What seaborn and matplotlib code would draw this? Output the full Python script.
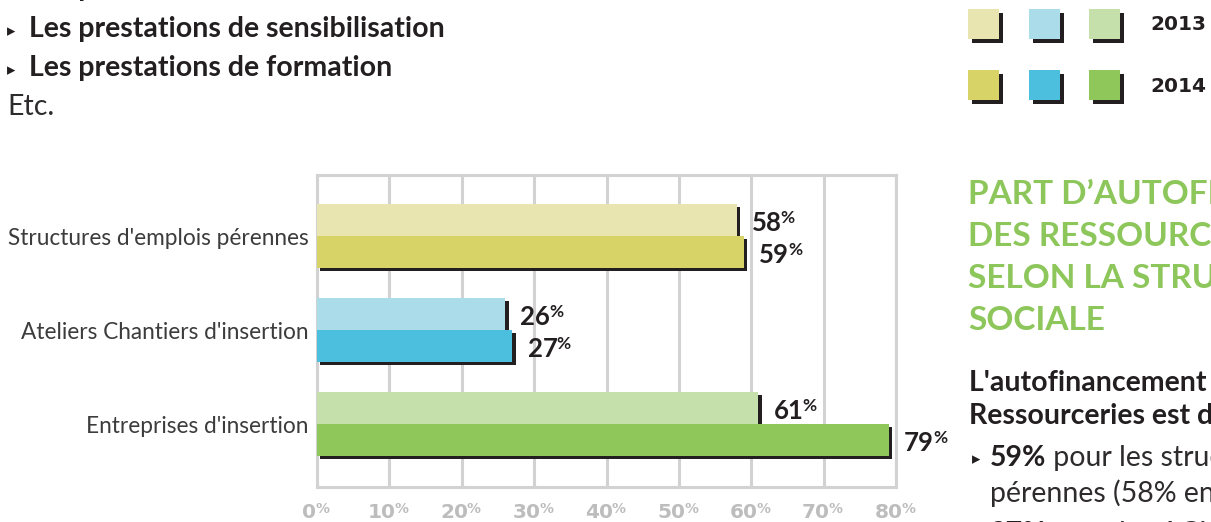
import matplotlib
matplotlib.use("Agg")
import matplotlib.pyplot as plt
import matplotlib.patheffects as pe
from matplotlib.patches import Rectangle
import seaborn as sns
import pandas as pd

# ---------------- data ----------------
categories = ["Structures d'emplois pérennes",
              "Ateliers Chantiers d'insertion",
              "Entreprises d'insertion"]
years = ["2013", "2014"]
values_2013 = [58, 26, 61]
values_2014 = [59, 27, 79]
colors_2013 = ["#E8E5B0", "#ABDCEA", "#C5E0AA"]
colors_2014 = ["#D7D366", "#4BBFDD", "#8FC75B"]
x_ticks = [0, 10, 20, 30, 40, 50, 60, 70, 80]

df = pd.DataFrame({
    "cat": categories * 2,
    "year": [years[0]] * 3 + [years[1]] * 3,
    "val": values_2013 + values_2014,
})

sns.set_theme(style="white")
plt.rcParams["font.family"] = ["Lato", "DejaVu Sans"]

W, H = 1211, 522
fig = plt.figure(figsize=(W / 100, H / 100), dpi=100)
fig.patch.set_facecolor("white")


def fx(px):
    return px / W


def fy(px):
    return 1 - px / H


DARK = "#231f20"
BODY = "#2e2b2c"
GRID = "#d2d2d2"
TICKC = "#bdbdbd"
GREEN = "#8DC65A"
FS = 20.5

shadow = [pe.SimplePatchShadow(offset=(2.4, -2.4), shadow_rgbFace=DARK, alpha=1.0), pe.Normal()]

# ---------------- chart ----------------
ax = fig.add_axes([fx(317), fy(487), fx(896) - fx(317), fy(175) - fy(487)])
sns.barplot(data=df, y="cat", x="val", hue="year", hue_order=years, order=categories,
            orient="h", width=0.68, ax=ax, legend=False, saturation=1,
            errorbar=None, palette=["#cccccc", "#999999"])

for p in ax.patches:
    yc = p.get_y() + p.get_height() / 2
    ci = int(round(yc))
    is2013 = yc < ci
    p.set_facecolor(colors_2013[ci] if is2013 else colors_2014[ci])
    p.set_edgecolor("none")
    p.set_linewidth(0)
    p.set_zorder(2)
    p.set_path_effects(shadow)

ax.set_xlim(0, 80)
ax.set_ylim(2.67, -0.65)
ax.set_xticks(x_ticks)
ax.set_xticklabels([])
ax.set_xlabel("")
ax.set_ylabel("")
ax.xaxis.grid(True, color=GRID, lw=2.2)
ax.yaxis.grid(False)
ax.set_axisbelow(True)
for s in ax.spines.values():
    s.set_visible(True)
    s.set_color(GRID)
    s.set_linewidth(2.2)
    s.set_zorder(0.6)
ax.tick_params(axis="both", length=0)
ax.tick_params(axis="y", pad=6)
for lab in ax.get_yticklabels():
    lab.set_fontsize(16.3)
    lab.set_fontweight("normal")
    lab.set_color("#3c3c3c")


def two_part(num, xy, xycoords, xytext, size, pct_size, color, family, ha="left"):
    t = ax.annotate(num, xy=xy, xycoords=xycoords, xytext=xytext, textcoords="offset points",
                    ha=ha, va="center", fontsize=size, fontweight="bold", color=color,
                    family=family, annotation_clip=False)
    ax.annotate("%", xy=(1, 1), xycoords=t, xytext=(-0.8, 0.6), textcoords="offset points",
                ha="left", va="top", fontsize=pct_size, fontweight="bold", color=color,
                family=family, annotation_clip=False)
    return t


# value labels
for p in ax.patches:
    yc = p.get_y() + p.get_height() / 2
    v = p.get_width()
    two_part(f"{int(round(v))}", (v, yc), "data", (11, -2.2), 18.5, 12.5, DARK, ["Lato", "DejaVu Sans"])

# custom x tick labels (grey, smaller %)
for t in x_ticks:
    two_part(f"{t}", (t, 0), ax.get_xaxis_transform(), (-5.5, -18.3), 14.5, 10, TICKC,
             ["DejaVu Sans"], ha="center")

# ---------------- legend (swatches) ----------------
lax = fig.add_axes([0, 0, 1, 1], zorder=5)
lax.set_xlim(0, W)
lax.set_ylim(H, 0)
lax.axis("off")
sw_x = [968, 1029, 1089]
sw_y = [9, 70]
for row, cols in enumerate([colors_2013, colors_2014]):
    for i, c in enumerate(cols):
        r = Rectangle((sw_x[i], sw_y[row]), 31, 30, facecolor=c, edgecolor="none")
        r.set_path_effects([pe.SimplePatchShadow(offset=(2.8, -2.8), shadow_rgbFace=DARK, alpha=1.0),
                            pe.Normal()])
        lax.add_patch(r)
    lax.text(1150, sw_y[row] + 16, years[row], ha="left", va="center", fontsize=14.5,
             fontweight="bold", color=DARK, family="DejaVu Sans")

# ---------------- surrounding page text ----------------
def bullet(xp, yp, size=12):
    fig.text(fx(xp), fy(yp), "▸", ha="left", va="center", fontsize=size,
             color=DARK, family="DejaVu Sans")


for yp, txt in [(-12, "Les prestations de services"),
                (29, "Les prestations de sensibilisation"),
                (68, "Les prestations de formation")]:
    bullet(7, yp + 2)
    fig.text(fx(29), fy(yp), txt, ha="left", va="center", fontsize=FS,
             fontweight="bold", color=DARK)
fig.text(fx(7), fy(107), "Etc.", ha="left", va="center", fontsize=FS,
         fontweight="normal", color=BODY)

for yp, txt in [(194, "PART D’AUTOFINANCEMENT"), (236, "DES RESSOURCERIES"),
                (278, "SELON LA STRUCTURE"), (320, "SOCIALE")]:
    fig.text(fx(968), fy(yp), txt, ha="left", va="center", fontsize=24,
             fontweight="bold", color=GREEN)

fig.text(fx(969), fy(383), "L'autofinancement des", ha="left", va="center",
         fontsize=FS, fontweight="bold", color=DARK)
fig.text(fx(969), fy(416), "Ressourceries est de :", ha="left", va="center",
         fontsize=FS, fontweight="bold", color=DARK)


def mixed_line(xp, yp, bold, rest):
    t = fig.text(fx(xp), fy(yp), bold, ha="left", va="center", fontsize=FS,
                 fontweight="bold", color=DARK)
    ax.annotate(rest, xy=(1, 0), xycoords=t, xytext=(0, 0), textcoords="offset points",
                ha="left", va="bottom", fontsize=FS, fontweight="normal", color=BODY,
                annotation_clip=False)


bullet(972, 459)
mixed_line(990, 458, "59%", " pour les structures d'emplois")
fig.text(fx(990), fy(493), "pérennes (58% en 2013)", ha="left", va="center",
         fontsize=FS, fontweight="normal", color=BODY)
bullet(972, 535)
mixed_line(990, 534, "27%", " pour les ACI (26% en 2013)")

fig.savefig("out.png", dpi=100, facecolor="white")
